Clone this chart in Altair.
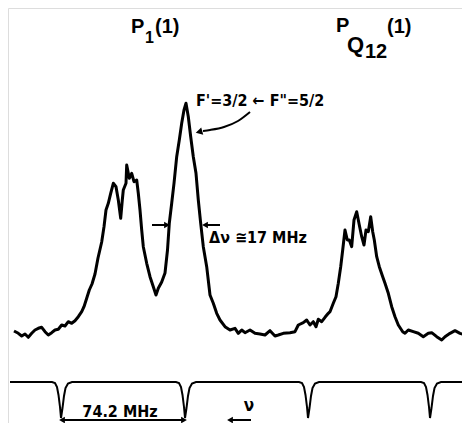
import altair as alt
import pandas as pd

# ---- absorption spectrum (scan position in arb. units, signal in arb. units) ----
spec_x = [14, 18.3, 21.7, 25, 28.3, 31.7, 35, 38.3, 41.7, 45, 48.3, 51.7, 55, 58.3,
          61.7, 65, 68.3, 71.7, 75, 78.3, 81.7, 84, 86.7, 89.3, 92, 95, 98, 101.7,
          104, 106, 108.3, 110.7, 113.3, 116, 118.3, 120.7, 122.3, 123.3, 126, 126.7,
          129.3, 131.7, 134, 136.7, 138.3, 140, 141.7, 143.3, 146.7, 150, 153.3, 156,
          158.3, 161.7, 165, 167.5, 169.3, 171.7, 174, 176.7, 179.3, 181.7, 184, 186,
          188.3, 190.7, 193.3, 196, 198.3, 200.7, 203.3, 206.7, 210, 213.3, 216.7, 220,
          225, 230, 235, 238.3, 241.7, 245, 250, 255, 260, 265, 270, 275, 278.3, 283.3,
          290, 295, 298.3, 303.3, 306.7, 310, 313.3, 316, 318.3, 321.7, 325, 328.3, 330,
          333.3, 336, 338.3, 340.7, 342.7, 345, 347.3, 349.3, 351.7, 354, 356.7, 359.3,
          361.7, 364, 366, 368.3, 370.7, 372.7, 374.3, 376.7, 379.3, 382.7, 385, 388.3,
          391.7, 395, 398.3, 402.7, 405, 408.3, 413.3, 418.3, 423.3, 428.3, 431.7, 436.7,
          441.7, 445, 450, 455, 460, 465, 470]
spec_sig = [9, 6.7, 4, 6, 2.7, 6.7, 10, 11.7, 12.7, 8.3, 5, 7.3, 10, 10.7,
            15, 14, 18.3, 16.7, 19.3, 23.3, 28.3, 33.3, 41.7, 50, 56, 66, 82, 98,
            113.3, 130, 136.7, 146.7, 156.7, 153.3, 140, 121.7, 140, 150, 156.7, 175,
            161.7, 166.7, 158.3, 160, 146.7, 130, 110, 93.3, 76.7, 63.3, 53.3, 45,
            51.7, 58, 67, 90, 116.7, 136.7, 156.7, 183.3, 200, 216.7, 230, 236.7,
            223.3, 203.3, 183.3, 166.7, 140, 116.7, 93.3, 73.3, 45, 36.7, 26.7, 20,
            13.3, 10, 11.7, 6.7, 10, 7.3, 10, 6.7, 6, 5, 9.3, 4, 5, 6.7,
            7.3, 8.3, 15, 17.3, 20, 15, 18.3, 13.3, 20.7, 18.3, 22.7, 26.7, 28.3,
            36.7, 43.3, 56.7, 73.3, 90, 110, 100, 100, 93.3, 120, 128.3, 115,
            103.3, 95, 110, 108.3, 123.3, 108.3, 100, 83.3, 73.3, 63.3, 56.7, 46.7,
            33.3, 23.3, 15, 8.3, 6.7, 10, 8.3, 6.7, 3.3, 6.7, 7.3, 3.3,
            0, 3.3, 6.7, 9.3, 6.7, 5, 6]

# ---- frequency-marker trace (74.2 MHz spacing) ----
mark_x = [10, 52, 55, 57, 58.5, 60, 61, 62.5, 64, 65.5, 68, 72,
          176, 179, 181, 182.5, 184, 185, 186.5, 188, 189.5, 192, 196,
          299, 302, 304, 305.5, 307, 308, 309.5, 311, 312.5, 315, 319,
          421, 424, 426, 427.5, 429, 430, 431.5, 433, 434.5, 437, 441, 470]
mark_sig = [-42, -42, -43, -47, -55, -67, -78, -68, -56, -48, -43.5, -42,
            -42, -43, -47, -55, -67, -78, -68, -56, -48, -43.5, -42,
            -42, -43, -47, -55, -67, -78, -68, -56, -48, -43.5, -42,
            -42, -43, -47, -55, -67, -78, -68, -56, -48, -43.5, -42, -42]

# ---- annotation texts ----
lbl_text = ["P", "1", "(1)", "P", "Q", "12", "(1)"]
lbl_x = [131, 145, 155, 336, 347, 365, 387]
lbl_y = [307, 297, 307, 308, 288, 282, 307]
lbl_size = [20, 16, 20, 20, 22, 20, 20]

note_text = ["F'=3/2 \u2190 F\"=5/2", "\u0394\u03bd \u224517 MHz", "74.2 MHz", "\u03bd"]
note_x = [196, 209, 120, 249]
note_y = [234, 97, -77, -71]
note_size = [16, 16, 16, 17]
note_align = ["left", "left", "center", "center"]

# curved pointer to the F'=3/2 <- F"=5/2 peak
curve_x = [250, 238, 224, 210, 203]
curve_sig = [228, 219, 213, 210, 209]

# straight arrows: x start, x end, level
arr_x1 = [152, 206, 63, 231]
arr_x2 = [166, 220, 183, 251]
arr_sig = [115, 115, -80, -80]
heads_x = [167, 205, 62, 184, 230]
heads_sig = [115, 115, -80, -80, -80]
heads_shape = ["triangle-right", "triangle-left", "triangle-left", "triangle-right", "triangle-left"]

FONT = "DejaVu Sans Condensed, DejaVu Sans, sans-serif"
LFONT = "Liberation Sans, Arial, sans-serif"

xs = alt.Scale(domain=[8, 462], nice=False, zero=False)
ys = alt.Scale(domain=[-83, 332], nice=False, zero=False)

spec = alt.Chart(pd.DataFrame({"x": spec_x, "s": spec_sig})).mark_line(
    color="black", strokeWidth=3, clip=True, strokeJoin="round"
).encode(x=alt.X("x:Q", scale=xs, axis=None), y=alt.Y("s:Q", scale=ys, axis=None), order="x:Q")

marker = alt.Chart(pd.DataFrame({"x": mark_x, "s": mark_sig})).mark_line(
    color="black", strokeWidth=2, clip=True
).encode(x=alt.X("x:Q", scale=xs), y=alt.Y("s:Q", scale=ys), order="x:Q")

curve = alt.Chart(pd.DataFrame({"x": curve_x, "s": curve_sig})).mark_line(
    color="black", strokeWidth=2, interpolate="monotone"
).encode(x=alt.X("x:Q", scale=xs), y=alt.Y("s:Q", scale=ys), order="x:Q")

curve_head = alt.Chart(pd.DataFrame({"x": [199], "s": [208]})).mark_point(
    shape="triangle-left", filled=True, color="black", size=60, opacity=1, angle=345
).encode(x=alt.X("x:Q", scale=xs), y=alt.Y("s:Q", scale=ys))

arrows = alt.Chart(pd.DataFrame({"x": arr_x1, "x2": arr_x2, "s": arr_sig})).mark_rule(
    color="black", strokeWidth=2
).encode(x=alt.X("x:Q", scale=xs), x2="x2:Q", y=alt.Y("s:Q", scale=ys))

heads = alt.Chart(pd.DataFrame({"x": heads_x, "s": heads_sig, "shape": heads_shape})).mark_point(
    filled=True, color="black", size=45, opacity=1
).encode(x=alt.X("x:Q", scale=xs), y=alt.Y("s:Q", scale=ys),
         shape=alt.Shape("shape:N", scale=None))

labels = alt.Chart(pd.DataFrame({"x": lbl_x, "s": lbl_y, "t": lbl_text, "sz": lbl_size})).mark_text(
    align="left", baseline="alphabetic", font=LFONT, fontWeight="bold", color="black"
).encode(x=alt.X("x:Q", scale=xs), y=alt.Y("s:Q", scale=ys), text="t:N",
         size=alt.Size("sz:Q", scale=None))

notes = []
for t, x, y, sz, al in zip(note_text, note_x, note_y, note_size, note_align):
    notes.append(
        alt.Chart(pd.DataFrame({"x": [x], "s": [y], "t": [t]})).mark_text(
            align=al, baseline="alphabetic", font=FONT, fontWeight="bold", color="black", fontSize=sz
        ).encode(x=alt.X("x:Q", scale=xs), y=alt.Y("s:Q", scale=ys), text="t:N")
    )

chart = alt.layer(spec, marker, curve, curve_head, arrows, heads, labels, *notes).properties(
    width=454, height=415, padding=0, autosize="none"
).configure_view(stroke=None).configure(background="white")

chart.save("out.html", embed_options={"renderer": "svg", "actions": False})
